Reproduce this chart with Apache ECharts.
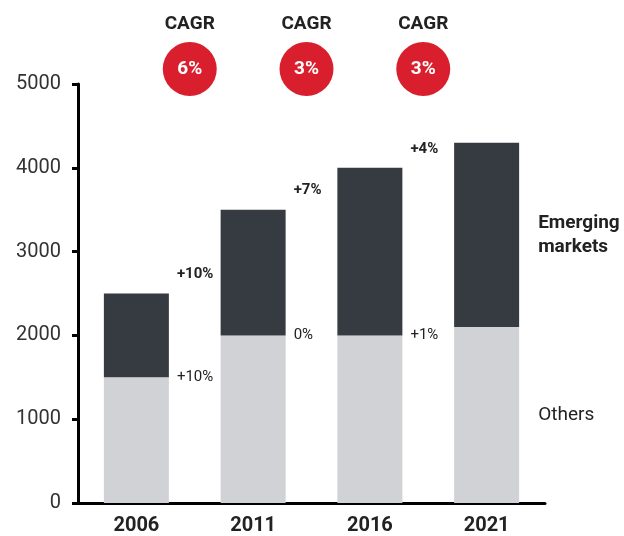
<!DOCTYPE html>
<html>
<head>
<meta charset="utf-8">
<script src="https://cdn.jsdelivr.net/npm/echarts@6/dist/echarts.min.js"></script>
<style>
html,body{margin:0;padding:0;background:#fff;}
#chart{width:624px;height:536px;}
</style>
</head>
<body>
<div id="chart"></div>
<script>
const categories = ['2006', '2011', '2016', '2021'];
const othersValues = [1500, 2000, 2000, 2100];
const emergingValues = [1000, 1500, 2000, 2200];
const othersGrowth = ['+10%', '0%', '+1%', ''];
const emergingGrowth = ['+10%', '+7%', '+4%', ''];
const cagrValues = ['6%', '3%', '3%'];
const othersName = 'Others';
const emergingName = 'Emerging\nmarkets';
const yMin = 0, yMax = 5000, yStep = 1000;

const FONT = 'Roboto, "Noto Sans", sans-serif';
const DARK = '#363a41';
const LIGHT = '#d1d2d5';
const RED = '#d91f2e';
const TEXT = '#222';
const lastIdx = categories.length - 1;

function growthLabel(text, bold) {
  return {
    show: true,
    formatter: text,
    position: ['100%', 0],
    offset: [8, bold ? -19 : 0],
    align: 'left',
    verticalAlign: 'middle',
    fontFamily: FONT,
    fontSize: 15,
    fontWeight: bold ? 'bold' : 'normal',
    color: TEXT
  };
}
function endLabel(text, bold) {
  return {
    show: true,
    formatter: text,
    position: 'right',
    distance: 19,
    align: 'left',
    verticalAlign: 'middle',
    fontFamily: FONT,
    fontSize: 19,
    lineHeight: 24,
    fontWeight: bold ? 'bold' : 'normal',
    color: TEXT
  };
}

const chart = echarts.init(document.getElementById('chart'));
const option = {
  animation: false,
  backgroundColor: '#fff',
  grid: { left: 78, right: 79, top: 84, bottom: 31, containLabel: false },
  xAxis: {
    type: 'category',
    data: categories,
    axisLine: { lineStyle: { color: '#000', width: 3 } },
    axisTick: { show: false },
    axisLabel: { margin: 13, fontFamily: FONT, fontSize: 20, fontWeight: 'bold', color: TEXT }
  },
  yAxis: {
    type: 'value',
    min: yMin, max: yMax, interval: yStep,
    splitLine: { show: false },
    axisLine: { show: true, lineStyle: { color: '#000', width: 3 } },
    axisTick: { show: true, length: 6, lineStyle: { color: '#000', width: 3 } },
    axisLabel: { margin: 17, fontFamily: FONT, fontSize: 20, color: '#333', formatter: (v) => String(v) }
  },
  series: [
    {
      name: 'Others',
      type: 'bar',
      stack: 'total',
      barWidth: 65,
      itemStyle: { color: LIGHT },
      emphasis: { disabled: true },
      data: othersValues.map((v, i) => ({
        value: v,
        label: i < lastIdx ? growthLabel(othersGrowth[i], false) : endLabel(othersName, false)
      }))
    },
    {
      name: 'Emerging markets',
      type: 'bar',
      stack: 'total',
      barWidth: 65,
      itemStyle: { color: DARK },
      emphasis: { disabled: true },
      data: emergingValues.map((v, i) => ({
        value: v,
        label: i < lastIdx ? growthLabel(emergingGrowth[i], true) : endLabel(emergingName, true)
      }))
    }
  ]
};
chart.setOption(option);

// CAGR badges between consecutive periods
const gridTop = chart.convertToPixel({ yAxisIndex: 0 }, yMax);
const graphics = [];
cagrValues.forEach((txt, i) => {
  const x0 = chart.convertToPixel({ xAxisIndex: 0 }, categories[i]);
  const x1 = chart.convertToPixel({ xAxisIndex: 0 }, categories[i + 1]);
  const cx = (x0 + x1) / 2 - 5;
  graphics.push({
    type: 'text',
    x: cx, y: gridTop - 60,
    style: { text: 'CAGR', fill: TEXT, font: 'bold 19px ' + FONT, align: 'center', verticalAlign: 'middle' }
  });
  graphics.push({
    type: 'circle',
    shape: { cx: cx, cy: gridTop - 15, r: 27 },
    style: { fill: RED }
  });
  graphics.push({
    type: 'text',
    x: cx, y: gridTop - 15,
    style: { text: txt, fill: '#fff', font: 'bold 19px ' + FONT, align: 'center', verticalAlign: 'middle' }
  });
});
chart.setOption({ graphic: graphics });
</script>
</body>
</html>
